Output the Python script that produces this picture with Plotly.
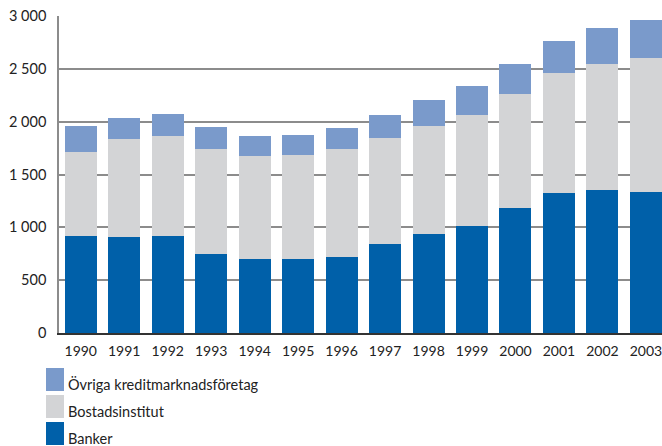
import plotly.graph_objects as go

years = ["1990", "1991", "1992", "1993", "1994", "1995", "1996",
         "1997", "1998", "1999", "2000", "2001", "2002", "2003"]
banker = [919, 910, 919, 749, 702, 702, 721, 843, 938, 1013, 1184, 1325, 1354, 1335]
bostadsinstitut = [793, 925, 945, 992, 973, 982, 1020, 1002, 1020, 1049, 1076, 1134, 1190, 1266]
ovriga = [246, 199, 207, 208, 189, 189, 198, 217, 246, 274, 284, 302, 340, 358]

series_names = ["Banker", "Bostadsinstitut", "Övriga kreditmarknadsföretag"]
series_colors = ["#0060A9", "#D3D4D6", "#7A9ACB"]
y_tickvals = [0, 500, 1000, 1500, 2000, 2500, 3000]
y_ticktext = ["0", "500", "1 000", "1 500", "2 000", "2 500", "3 000"]

FONT = "Lato"
fig = go.Figure()
for name, vals, col in zip(series_names, [banker, bostadsinstitut, ovriga], series_colors):
    fig.add_trace(go.Bar(x=years, y=vals, name=name, marker=dict(color=col, line=dict(width=0)),
                         width=0.736, showlegend=False))

fig.update_layout(
    barmode="stack",
    width=662, height=446,
    margin=dict(l=59, r=0, t=16, b=113),
    paper_bgcolor="white", plot_bgcolor="white",
    font=dict(family=FONT, size=14, color="#222"),
    xaxis=dict(type="category", range=[-0.5, 13.37], showgrid=False,
               showline=True, linecolor="#333", linewidth=2, ticks="",
               tickfont=dict(size=14), ticklabelstandoff=4),
    yaxis=dict(range=[0, 3000], tickvals=y_tickvals, ticktext=y_ticktext,
               showgrid=True, gridcolor="#8c8c8c", gridwidth=1.5,
               showline=True, linecolor="#8c8c8c", linewidth=1.5,
               zeroline=False, ticks="", tickfont=dict(size=14.5), ticklabelstandoff=8),
)

# legend (drawn manually, top-down: Övriga, Bostadsinstitut, Banker)
rows = [(368, 391), (395, 418), (422, 445)]
order = [2, 1, 0]
for (y0, y1), idx in zip(rows, order):
    fig.add_shape(type="rect", xref="paper", yref="paper",
                  x0=(46 - 59) / 603, x1=(64 - 59) / 603,
                  y0=(333 - y1) / 317, y1=(333 - y0) / 317,
                  fillcolor=series_colors[idx], line=dict(width=0))
    fig.add_annotation(xref="paper", yref="paper", x=(66 - 59) / 603,
                       y=(333 - (y0 + y1) / 2 - 5) / 317,
                       text=series_names[idx], showarrow=False,
                       xanchor="left", yanchor="middle",
                       font=dict(family=FONT, size=14.5, color="#222"))

fig.write_html("out.html", config={"displayModeBar": False},
               post_script="document.body.style.margin='0px';")
